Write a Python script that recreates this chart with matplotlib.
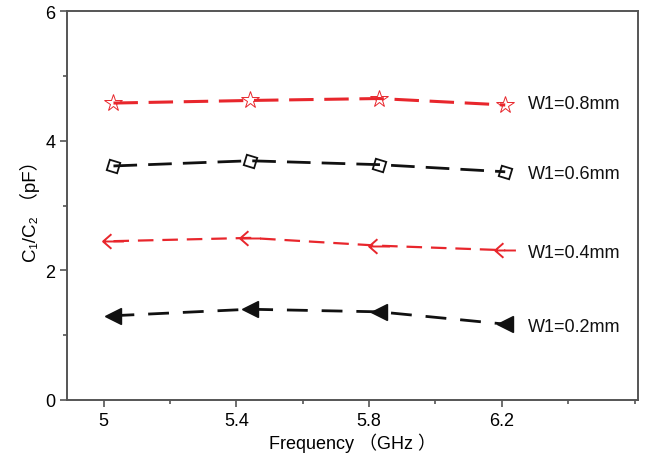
import matplotlib
matplotlib.use("Agg")
import matplotlib.pyplot as plt
from matplotlib.path import Path
from matplotlib.ticker import MultipleLocator

plt.rcParams['font.family'] = ['Liberation Sans', 'Noto Sans CJK SC', 'DejaVu Sans']

freq = [5.03, 5.44, 5.83, 6.21]
w08 = [4.58, 4.62, 4.65, 4.55]
w06 = [3.61, 3.69, 3.63, 3.52]
w04 = [2.45, 2.50, 2.38, 2.31]
w02 = [1.30, 1.40, 1.36, 1.17]
labels = ["W1=0.8mm", "W1=0.6mm", "W1=0.4mm", "W1=0.2mm"]
label_y = [4.58, 3.49, 2.28, 1.14]
xticks = [5, 5.4, 5.8, 6.2]
xticklabels = ["5", "5.4", "5.8", "6.2"]
yticks = [0, 2, 4, 6]

red = '#e8262c'
black = '#111111'
spine = '#555555'

# open left arrow marker "<-"
arrow_path = Path([(1, 0), (-1, 0), (-0.2, 0.7), (-1, 0), (-0.2, -0.7)],
                  [Path.MOVETO, Path.LINETO, Path.MOVETO, Path.LINETO, Path.LINETO])

fig = plt.figure(figsize=(6.47, 4.60), dpi=100)
ax = fig.add_axes([67 / 647, 59 / 460, 571 / 647, 389 / 460])

ax.plot(freq, w08, color=red, lw=2.2, dashes=(8, 3.5), marker='*', ms=13,
        mfc='none', mec=red, mew=0.7)
ax.plot(freq, w06, color=black, lw=2.0, dashes=(8.5, 4), marker=(4, 0, 28), ms=11,
        mfc='none', mec=black, mew=1.3)
ax.plot(freq, w04, color=red, lw=1.6, dashes=(7, 4), marker=arrow_path, ms=15,
        mfc='none', mec=red, mew=1.4)
ax.plot(freq, w02, color=black, lw=2.0, dashes=(7.5, 5), marker='<', ms=11,
        mfc=black, mec=black)

for lab, ly in zip(labels, label_y):
    ax.text(6.277, ly, lab, fontsize=13, va='center', ha='left', color=black)

ax.set_xlim(4.89, 6.61)
ax.set_ylim(0, 6)
ax.set_xticks(xticks)
ax.set_xticklabels(xticklabels)
ax.set_yticks(yticks)
ax.xaxis.set_minor_locator(MultipleLocator(0.2))
ax.yaxis.set_minor_locator(MultipleLocator(1))
ax.tick_params(which='both', direction='out', top=False, right=False, labelsize=13,
               color=spine, width=1.2)
ax.tick_params(which='major', length=5)
ax.tick_params(which='minor', length=3)
for s in ax.spines.values():
    s.set_color(spine)
    s.set_linewidth(1.4)

ax.set_xlabel("Frequency （GHz ）", fontsize=13, labelpad=3)
ax.set_ylabel("C₁/C₂ （pF）", fontsize=13.5, labelpad=4)

fig.savefig("out.png", dpi=100)
